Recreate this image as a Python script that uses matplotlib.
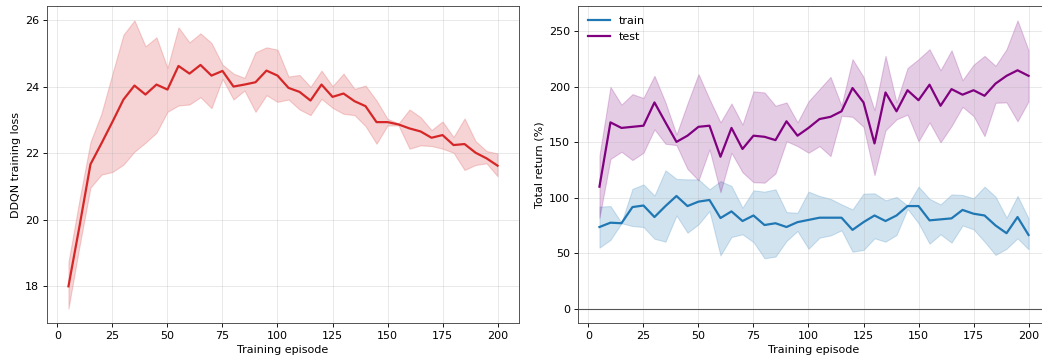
import numpy as np
import matplotlib
matplotlib.use("Agg")
import matplotlib.pyplot as plt

episodes = list(range(5, 205, 5))

# DDQN training loss (mean and band)
loss_mean = [18.0, 19.8, 21.67, 22.3, 22.95, 23.62, 24.04, 23.77, 24.07, 23.92,
             24.63, 24.4, 24.66, 24.34, 24.48, 24.01, 24.07, 24.14, 24.49, 24.34,
             23.97, 23.85, 23.59, 24.07, 23.7, 23.8, 23.57, 23.42, 22.94, 22.94,
             22.87, 22.75, 22.66, 22.47, 22.55, 22.25, 22.28, 22.02, 21.85, 21.63]
loss_hi = [18.73, 20.6, 22.34, 23.2, 24.4, 25.57, 26.0, 25.22, 25.49, 24.57,
           25.79, 25.34, 25.61, 25.32, 24.67, 24.4, 24.27, 25.04, 25.19, 25.12,
           24.31, 24.36, 24.0, 24.49, 24.02, 24.4, 23.94, 24.04, 23.59, 23.04,
           22.9, 23.32, 23.09, 22.7, 22.96, 22.49, 23.05, 22.37, 22.07, 22.0]
loss_lo = [17.33, 19.2, 20.97, 21.36, 21.44, 21.66, 22.05, 22.32, 22.62, 23.25,
           23.44, 23.47, 23.69, 23.36, 24.24, 23.62, 23.89, 23.25, 23.75, 23.55,
           23.62, 23.32, 23.15, 23.64, 23.37, 23.19, 23.15, 22.82, 22.29, 22.84,
           22.84, 22.14, 22.24, 22.22, 22.14, 22.02, 21.5, 21.65, 21.7, 21.31]

# total return (%)
train_mean = [73.6, 77.5, 77, 91.6, 93, 82.6, 92.5, 101.6, 92.5, 96.5,
              98, 81.7, 87.7, 79, 84, 75.4, 77, 73.6, 78, 80,
              82, 82, 82, 71, 78, 84, 79, 84, 92.5, 92.5,
              79.6, 80.5, 81.4, 89, 85.6, 84, 75, 68, 82.6, 66.4]
train_hi = [92, 92.5, 77.5, 108, 112, 102, 124.7, 117, 116.6, 116.6,
            107.6, 115, 110.6, 91, 106.7, 105.5, 107.6, 87, 86.5, 105.5,
            101.6, 99, 94, 89.5, 103.7, 104, 97.7, 100.7, 93, 110,
            99, 94, 103, 102.5, 99.5, 110, 101, 82, 101.6, 81.4]
train_lo = [55, 62, 77, 74.5, 73.6, 63, 60.4, 84, 68.5, 76,
            88, 48, 64.6, 67, 60, 45.4, 46.9, 61, 70, 54,
            64, 66, 70.6, 51.4, 52.9, 63.4, 60.4, 66.4, 90, 77,
            58.6, 67, 59.5, 75, 71.5, 60.4, 48.4, 54, 63.4, 53.5]

test_mean = [110, 168, 163, 164, 165, 186, 168, 150.4, 156, 164,
             165, 137, 163, 144, 156, 155, 152, 169, 156, 163,
             171, 173, 178, 199, 186, 149, 195, 178, 197, 188,
             202, 183, 198, 193, 197, 192, 203, 210, 215, 210]
test_hi = [138, 200, 184, 193.5, 190, 210, 186, 157, 185, 211.5,
           189, 168, 185, 166, 196, 195, 183, 186, 168, 187,
           198, 209, 183, 225, 209, 179, 228, 186, 217, 225,
           234, 215, 233, 206, 220, 228, 219, 234, 260, 233]
test_lo = [82, 135, 141.5, 134, 140.6, 161.7, 148.7, 147.5, 126, 115.7,
           143.6, 105, 140.6, 123, 114, 113.6, 122, 151, 146.6, 140.6,
           146.6, 137.6, 174, 173, 164, 120.5, 160.8, 170.7, 175, 151,
           168, 150, 164.7, 182, 173.7, 155.6, 185.7, 186, 169, 187]

W, H = 1042, 362
DPI = 80
fig = plt.figure(figsize=(W / DPI, H / DPI), dpi=DPI)

ax1 = fig.add_axes([47 / W, (H - 323) / H, 472 / W, 317 / H])
ax2 = fig.add_axes([578 / W, (H - 323) / H, 472 / W, 317 / H])

spine_color = '#444444'

# left: loss
ax1.fill_between(episodes, loss_lo, loss_hi, color='tab:red', alpha=0.2)
ax1.plot(episodes, loss_mean, color='tab:red', lw=2)
ax1.set_ylabel('DDQN training loss')
ax1.set_xlabel('Training episode', labelpad=4)

# right: returns
ax2.axhline(0, color='#555555', lw=1)
ax2.fill_between(episodes, train_lo, train_hi, color='tab:blue', alpha=0.2)
ax2.fill_between(episodes, test_lo, test_hi, color='purple', alpha=0.2)
ax2.plot(episodes, train_mean, color='tab:blue', lw=2, label='train')
ax2.plot(episodes, test_mean, color='purple', lw=2, label='test')
ax2.set_ylabel('Total return (%)')
ax2.set_xlabel('Training episode', labelpad=4)
ax2.legend(loc='upper left', frameon=False)

for ax in (ax1, ax2):
    ax.grid(True, alpha=0.3)
    ax.set_xticks([0, 25, 50, 75, 100, 125, 150, 175, 200])
    for s in ax.spines.values():
        s.set_color(spine_color)

fig.savefig('out.png', dpi=DPI)
